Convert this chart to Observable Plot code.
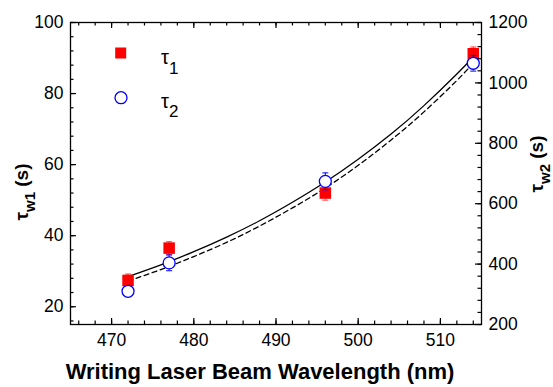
<!DOCTYPE html>
<html><head><meta charset="utf-8">
<script src="https://cdn.jsdelivr.net/npm/d3@7"></script>
<script src="https://cdn.jsdelivr.net/npm/@observablehq/plot@0.6"></script>
<style>
html,body{margin:0;padding:0;background:#fff;}
#chart svg{display:block;}
</style></head><body><div id="chart"></div>
<script>
// ---- data ----
const wavelength = [472, 477, 496, 514];
const tau1 = [27.4, 36.5, 52.0, 91.2];      // left axis (s)
const tau1Err = [1.8, 1.8, 2.0, 1.9];
const tau2 = [310, 404, 674, 1065];         // right axis (s)
const tau2Err = [15, 26, 28, 26];
const fitWavelength = [472, 476, 480, 484, 488, 492, 496, 500, 504, 508, 512, 514];
const fit1 = [28.5, 31.8, 35.5, 39.6, 44.2, 49.4, 55.1, 61.5, 68.6, 76.6, 85.5, 90.3]; // solid, left units
const fit2 = [344, 382, 425, 472, 526, 586, 652, 727, 811, 904, 1008, 1066];          // dashed, right units
const xTicks = [470, 480, 490, 500, 510];
const xMinor = d3.range(466, 515, 2);
const y1Ticks = [20, 40, 60, 80, 100];
const y1Minor = d3.range(16, 101, 4);
const y2Ticks = [200, 400, 600, 800, 1000, 1200];
const y2Minor = d3.range(200, 1201, 40);

// ---- layout ----
const W = 553, H = 387;
const mL = 70, mR = 72, mT = 22, mB = 63;
const fw = W - mL - mR, fh = H - mT - mB;
const toLeft = d3.scaleLinear([200, 1200], [15, 100]);
const font = "'Liberation Sans', Arial, Helvetica, sans-serif";

const cap = {draw(ctx, size) { const r = Math.sqrt(size / Math.PI); ctx.moveTo(-r, 0); ctx.lineTo(r, 0); }};

const d1 = wavelength.map((w, i) => ({w, v: tau1[i], lo: tau1[i] - tau1Err[i], hi: tau1[i] + tau1Err[i]}));
const d2 = wavelength.map((w, i) => ({w, v: toLeft(tau2[i]), lo: toLeft(tau2[i] - tau2Err[i]), hi: toLeft(tau2[i] + tau2Err[i])}));
const f1 = fitWavelength.map((w, i) => ({w, v: fit1[i]}));
const f2 = fitWavelength.map((w, i) => ({w, v: toLeft(fit2[i])}));

const axisColor = "#000";
const plot = Plot.plot({
  width: W, height: H,
  marginLeft: mL, marginRight: mR, marginTop: mT, marginBottom: mB,
  style: {fontFamily: font, fontSize: "17.5px", color: "#000", background: "#fff"},
  x: {domain: [465, 515]},
  y: {domain: [15, 100]},
  marks: [
    // fits
    Plot.line(f1, {x: "w", y: "v", stroke: "#000", strokeWidth: 1.3, curve: "natural"}),
    Plot.line(f2, {x: "w", y: "v", stroke: "#000", strokeWidth: 1.3, strokeDasharray: "5,3.5", curve: "natural"}),
    // tau1 error bars + squares
    Plot.ruleX(d1, {x: "w", y1: "lo", y2: "hi", stroke: "#ff4040", strokeWidth: 1}),
    Plot.dot(d1, {x: "w", y: "hi", symbol: cap, r: 3, stroke: "#ff4040", strokeWidth: 1}),
    Plot.dot(d1, {x: "w", y: "lo", symbol: cap, r: 3, stroke: "#ff4040", strokeWidth: 1}),
    Plot.dot(d1, {x: "w", y: "v", symbol: "square", r: 6.5, fill: "#ff0000", stroke: "none"}),
    // tau2 error bars + circles
    Plot.ruleX(d2, {x: "w", y1: "lo", y2: "hi", stroke: "#0000ff", strokeWidth: 1}),
    Plot.dot(d2, {x: "w", y: "hi", symbol: cap, r: 3, stroke: "#0000ff", strokeWidth: 1}),
    Plot.dot(d2, {x: "w", y: "lo", symbol: cap, r: 3, stroke: "#0000ff", strokeWidth: 1}),
    Plot.dot(d2, {x: "w", y: "v", r: 6, fill: "#fff", stroke: "#0000ff", strokeWidth: 1.3}),
    // inward ticks
    Plot.tickX(xMinor, {x: d => d, insetTop: fh - 3.5, stroke: axisColor, strokeWidth: 1.2}),
    Plot.tickX(xTicks, {x: d => d, insetTop: fh - 6, stroke: axisColor, strokeWidth: 1.2}),
    Plot.tickX(xMinor, {x: d => d, insetBottom: fh - 3.5, stroke: axisColor, strokeWidth: 1.2}),
    Plot.tickX(xTicks, {x: d => d, insetBottom: fh - 6, stroke: axisColor, strokeWidth: 1.2}),
    Plot.tickY(y1Minor, {y: d => d, insetRight: fw - 3.5, stroke: axisColor, strokeWidth: 1.2}),
    Plot.tickY(y1Ticks, {y: d => d, insetRight: fw - 6, stroke: axisColor, strokeWidth: 1.2}),
    Plot.tickY(y2Minor.map(toLeft), {y: d => d, insetLeft: fw - 3.5, stroke: axisColor, strokeWidth: 1.2}),
    Plot.tickY(y2Ticks.map(toLeft), {y: d => d, insetLeft: fw - 6, stroke: axisColor, strokeWidth: 1.2}),
    Plot.frame({stroke: axisColor, strokeWidth: 1.3}),
    // tick labels
    Plot.axisX(xTicks, {tickSize: 0, tickPadding: 9, label: null, fill: "#000"}),
    Plot.axisY(y1Ticks, {anchor: "left", tickSize: 0, tickPadding: 7, label: null, fill: "#000"}),
    Plot.axisY(y2Ticks.map(toLeft), {anchor: "right", tickSize: 0, tickPadding: 7, label: null, fill: "#000",
      tickFormat: d => String(Math.round(toLeft.invert(d)))})
  ]
});
document.getElementById("chart").appendChild(plot);

// ---- titles and legend (text with sub-scripts) ----
const svg = d3.select(plot);
function rich(g, parts, anchor) {
  const t = g.append("text").attr("font-family", font).attr("fill", "#000").attr("text-anchor", anchor || "start");
  parts.forEach(p => {
    const s = t.append("tspan").text(p.text).attr("font-size", p.size);
    if (p.weight) s.attr("font-weight", p.weight);
    if (p.dy) s.attr("dy", p.dy);
  });
  return t;
}
// x title
svg.append("text").attr("x", 260).attr("y", 379)
  .attr("text-anchor", "middle").attr("font-family", font).attr("font-weight", "bold")
  .attr("font-size", 22).attr("fill", "#000").text("Writing Laser Beam Wavelength (nm)");
// left y title
const gl = svg.append("g").attr("transform", "translate(28,192) rotate(-90)");
rich(gl, [
  {text: "τ", size: 19, weight: "bold"},
  {text: "w1", size: 15, weight: "bold", dy: 7},
  {text: " (s)", size: 19, weight: "bold", dy: -7}
], "middle");
// right y title
const gr = svg.append("g").attr("transform", "translate(543,164) rotate(-90)");
rich(gr, [
  {text: "τ", size: 19, weight: "bold"},
  {text: "w2", size: 15, weight: "bold", dy: 7},
  {text: " (s)", size: 19, weight: "bold", dy: -7}
], "middle");
// legend
const lg = svg.append("g");
lg.append("rect").attr("x", 115.2).attr("y", 47.5).attr("width", 11).attr("height", 11).attr("fill", "#ff0000");
lg.append("circle").attr("cx", 121).attr("cy", 97.7).attr("r", 6).attr("fill", "#fff").attr("stroke", "#0000ff").attr("stroke-width", 1.3);
rich(lg.append("g").attr("transform", "translate(161,63.5)"), [
  {text: "τ", size: 20},
  {text: "1", size: 17, dy: 10}
]);
rich(lg.append("g").attr("transform", "translate(161,108)"), [
  {text: "τ", size: 20},
  {text: "2", size: 17, dy: 9}
]);
</script>
</body></html>
